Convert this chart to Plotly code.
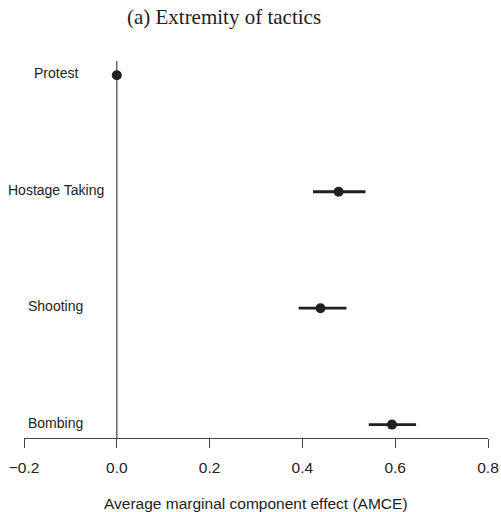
import plotly.graph_objects as go

categories = ["Protest", "Hostage Taking", "Shooting", "Bombing"]
estimates = [0.0, 0.478, 0.439, 0.593]
ci_low = [0.0, 0.423, 0.392, 0.543]
ci_high = [0.0, 0.536, 0.495, 0.645]
x_ticks = [-0.2, 0.0, 0.2, 0.4, 0.6, 0.8]

order = categories[::-1]  # bottom to top

fig = go.Figure()

# CI lines
for c, lo, hi in zip(categories, ci_low, ci_high):
    if hi > lo:
        fig.add_trace(go.Scatter(
            x=[lo, hi], y=[c, c], mode="lines",
            line=dict(color="#231f20", width=2.8), showlegend=False,
            hoverinfo="skip"))

fig.add_trace(go.Scatter(
    x=estimates, y=categories, mode="markers",
    marker=dict(color="#231f20", size=10, line=dict(width=0)),
    showlegend=False))

# vertical reference line at 0
fig.add_shape(type="line", xref="x", yref="paper", x0=0, x1=0, y0=0, y1=1,
              line=dict(color="#555555", width=1.3), layer="below")

# category labels
for c in categories:
    fig.add_annotation(x=-0.1316, y=c, xref="x", yref="y", text=c,
                       showarrow=False, xanchor="center", yanchor="middle",
                       yshift=2,
                       font=dict(family="Liberation Sans, Arial", size=14, color="#222222"))

fig.add_annotation(x=0.5, y=-0.173, xref="paper", yref="paper",
                   text="Average marginal component effect (AMCE)",
                   showarrow=False, xanchor="center", yanchor="middle",
                   font=dict(family="Liberation Sans, Arial", size=15.5, color="#222222"))

fig.update_layout(
    width=501, height=512,
    margin=dict(l=24, r=13, t=61, b=74, autoexpand=False),
    paper_bgcolor="white", plot_bgcolor="white",
    title=dict(text="(a) Extremity of tactics", x=224 / 501, xanchor="center",
               y=1 - 16.7 / 512, yanchor="middle",
               font=dict(family="Liberation Serif, Times New Roman", size=21, color="#222222")),
    xaxis=dict(range=[-0.2, 0.8], tickvals=x_ticks, tickformat=".1f",
               automargin=False,
               showgrid=False, zeroline=False, showline=True, linecolor="#444444",
               linewidth=1, ticks="outside", ticklen=9, tickwidth=1, tickcolor="#444444",
               ticklabelstandoff=6,
               tickfont=dict(family="Liberation Sans, Arial", size=15.5, color="#222222")),
    yaxis=dict(type="category", categoryorder="array", categoryarray=order,
               range=[-0.115, 3.123], showticklabels=False, showgrid=False,
               automargin=False,
               zeroline=False, showline=False, ticks=""),
)

fig.write_html("out.html")
